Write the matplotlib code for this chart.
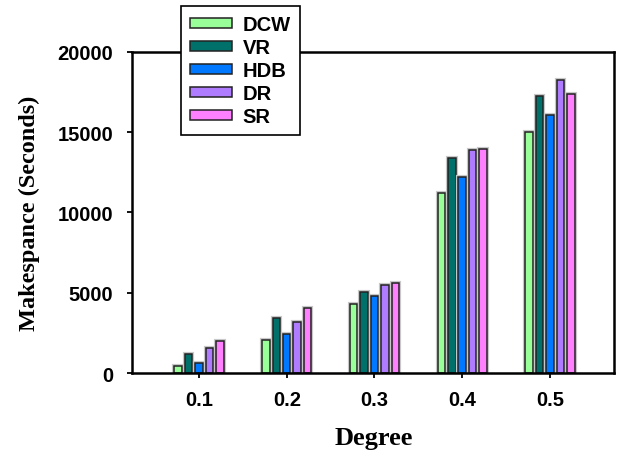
# Makespan vs degree grouped bar chart

import numpy as np
import matplotlib.pyplot as plt
import matplotlib.patheffects as pe
from matplotlib import font_manager as fm

degrees = [0.1, 0.2, 0.3, 0.4, 0.5]
series_names = ["DCW", "VR", "HDB", "DR", "SR"]
dcw = [450, 2070, 4330, 11200, 14990]
vr = [1200, 3400, 5070, 13370, 17250]
hdb = [620, 2460, 4820, 12200, 16090]
dr = [1550, 3150, 5500, 13890, 18260]
sr = [1970, 4060, 5590, 13970, 17410]
colors = ["#99FF99", "#00706B", "#0078FF", "#B07CFF", "#FF80FF"]

# pick the regular-width Liberation Sans Bold (not the Narrow one)
sans_bold = [f.fname for f in fm.fontManager.ttflist
             if f.name == "Liberation Sans" and "Narrow" not in f.fname
             and f.weight in (700, "bold") and f.style == "normal"]


def sans(size):
    if sans_bold:
        return fm.FontProperties(fname=sans_bold[0], size=size)
    return fm.FontProperties(family="Liberation Sans", weight="bold", size=size)


fig = plt.figure(figsize=(6.21, 4.56), dpi=100)
ax = fig.add_axes([0.2126, 0.1798, 0.7761, 0.704])

step = 0.0119
width = 0.0085
halo = [pe.Stroke(linewidth=3, foreground="#c8c8c8"), pe.Normal()]
for i, (name, vals) in enumerate(zip(series_names, [dcw, vr, hdb, dr, sr])):
    x = np.array(degrees) + (i - 2) * step
    bars = ax.bar(x, vals, width=width, color=colors[i], edgecolor="#222222",
                  linewidth=1.1, label=name)
    for b in bars:
        b.set_path_effects(halo)

ax.set_xlim(0.0236, 0.573)
ax.set_ylim(0, 20000)
ax.set_xticks(degrees)
ax.set_xticklabels([str(d) for d in degrees])
ax.set_yticks([0, 5000, 10000, 15000, 20000])

for s in ax.spines.values():
    s.set_linewidth(1.8)
ax.tick_params(axis="both", direction="out", length=3.5, width=1.3)
ax.tick_params(axis="y", pad=10)
ax.tick_params(axis="x", pad=9)
for lab in ax.get_xticklabels() + ax.get_yticklabels():
    lab.set_fontproperties(sans(14.5))

ax.set_ylabel("Makespance (Seconds)", family="Liberation Serif",
              fontweight="bold", fontsize=17.5, va="center")
ax.yaxis.set_label_coords(-0.212, 0.5)
ax.set_xlabel("Degree", family="Liberation Serif", fontweight="bold",
              fontsize=19, va="center")
ax.xaxis.set_label_coords(0.502, -0.2)

leg = ax.legend(loc="upper left", bbox_to_anchor=(0.2915, 0.985),
                bbox_transform=fig.transFigure, borderaxespad=0,
                prop=sans(14.5),
                handlelength=2.1, handleheight=0.4, handletextpad=0.5,
                labelspacing=0.2, borderpad=0.45, fancybox=False,
                framealpha=1, edgecolor="black")
leg.get_frame().set_linewidth(1.2)
for h in leg.legend_handles:
    h.set_path_effects([])

fig.savefig("out.png", dpi=100)
